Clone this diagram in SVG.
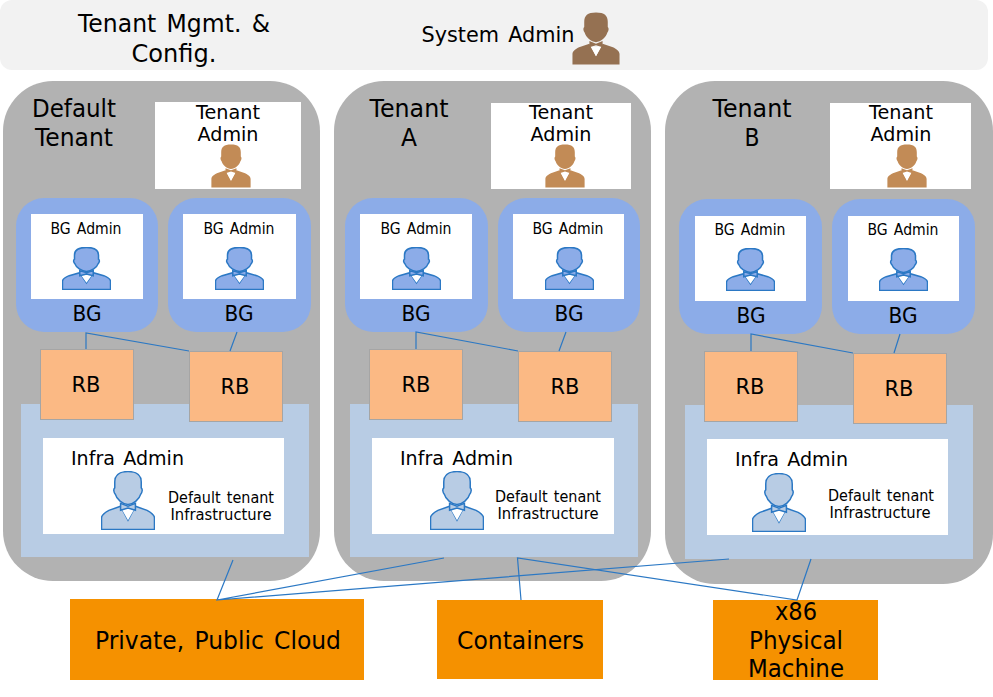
<svg xmlns="http://www.w3.org/2000/svg" width="993" height="697" viewBox="0 0 993 697">
<style>
text{font-family:"DejaVu Sans","Liberation Sans",sans-serif;fill:#000;text-anchor:middle;word-spacing:.12em}
.tenant{fill:#b2b2b2}
.bg{fill:#8cace8}
.box{fill:#fff}
.rb{fill:#fbb984;stroke:#a5a5a5;stroke-width:1}
.infra{fill:#b8cce4}
.res{fill:#f59100}
.conn{fill:none;stroke:#2b78c4;stroke-width:1.2}
.sys{fill:#957152;stroke:#957152;stroke-width:0}
.ta{fill:#c28b56;stroke:#c28b56;stroke-width:0}
.pb{fill:#8cace8;stroke:#2b78c4;stroke-width:1.5}
.pi{fill:#b8cce4;stroke:#2b78c4;stroke-width:1.5}
.s25{font-size:24px}.s22{font-size:22px}.s20{font-size:20px}.s15{font-size:15px}.s19{font-size:19px}.s21{font-size:21px}
</style>
<defs>
<symbol id="person" viewBox="-1 -1 102 102" preserveAspectRatio="none">
<path vector-effect="non-scaling-stroke" d="M50 0C68 0 75 6 75 18L75 28C78 30 77 36 74 39C72 47 60 57 50 57C40 57 28 47 26 39C23 36 22 30 25 28L25 18C25 6 32 0 50 0Z"/>
<path vector-effect="non-scaling-stroke" d="M0 100L0 80C0 74 8 70 14 67L36 60L50 84L64 60L86 67C92 70 100 74 100 80L100 100Z"/>
<path d="M37 63L50 67L63 63L50 84Z" fill="#fff" stroke="none"/>
<path vector-effect="non-scaling-stroke" d="M36 55L50 60L64 55L64 67L50 63L36 67Z"/>
</symbol>
</defs>

<g id="mgmt-band">
<rect x="0" y="0" width="988" height="70" rx="12" fill="#f2f2f2"/>
<text class="s25" x="174" y="32" textLength="192" lengthAdjust="spacingAndGlyphs">Tenant Mgmt. &amp;</text>
<text class="s25" x="174" y="62" textLength="85" lengthAdjust="spacingAndGlyphs">Config.</text>
<text class="s22" x="498" y="42" textLength="153" lengthAdjust="spacingAndGlyphs">System Admin</text>
<use href="#person" class="sys" x="572" y="12" width="48" height="53"/>
</g>

<g id="tenant-default">
<rect class="tenant" x="3" y="81" width="317" height="500" rx="50"/>
<text class="s25" x="74" y="117" textLength="84" lengthAdjust="spacingAndGlyphs">Default</text>
<text class="s25" x="74" y="146" textLength="78" lengthAdjust="spacingAndGlyphs">Tenant</text>
</g>
<g id="tenant-a">
<rect class="tenant" x="334" y="81" width="317" height="500" rx="50"/>
<text class="s25" x="409" y="117" textLength="79" lengthAdjust="spacingAndGlyphs">Tenant</text>
<text class="s25" x="409" y="146" textLength="16" lengthAdjust="spacingAndGlyphs">A</text>
</g>
<g id="tenant-b">
<rect class="tenant" x="665" y="81" width="328" height="503" rx="50"/>
<text class="s25" x="752" y="117" textLength="79" lengthAdjust="spacingAndGlyphs">Tenant</text>
<text class="s25" x="752" y="146" textLength="15" lengthAdjust="spacingAndGlyphs">B</text>
</g>

<g id="tenant-admin-default">
<rect class="box" x="155" y="102" width="146" height="87"/>
<text class="s20" x="228" y="119" textLength="64" lengthAdjust="spacingAndGlyphs">Tenant</text>
<text class="s20" x="228" y="141" textLength="61" lengthAdjust="spacingAndGlyphs">Admin</text>
<use href="#person" class="ta" x="211" y="144" width="40" height="44"/>
</g>
<g id="tenant-admin-a">
<rect class="box" x="491" y="103" width="140" height="86"/>
<text class="s20" x="561" y="119" textLength="64" lengthAdjust="spacingAndGlyphs">Tenant</text>
<text class="s20" x="561" y="141" textLength="61" lengthAdjust="spacingAndGlyphs">Admin</text>
<use href="#person" class="ta" x="545" y="144" width="40" height="44"/>
</g>
<g id="tenant-admin-b">
<rect class="box" x="830" y="103" width="141" height="86"/>
<text class="s20" x="901" y="119" textLength="64" lengthAdjust="spacingAndGlyphs">Tenant</text>
<text class="s20" x="901" y="141" textLength="61" lengthAdjust="spacingAndGlyphs">Admin</text>
<use href="#person" class="ta" x="887" y="144" width="40" height="44"/>
</g>

<g id="bg-default-1">
<rect class="bg" x="16" y="198" width="142" height="134" rx="28"/>
<rect class="box" x="31" y="214" width="112" height="85"/>
<text class="s15" x="86" y="234" textLength="71" lengthAdjust="spacingAndGlyphs">BG Admin</text>
<use href="#person" class="pb" x="62" y="247" width="49" height="43"/>
<text class="s21" x="87" y="321" textLength="29" lengthAdjust="spacingAndGlyphs">BG</text>
</g>
<g id="bg-default-2">
<rect class="bg" x="168" y="198" width="143" height="134" rx="28"/>
<rect class="box" x="183" y="214" width="113" height="85"/>
<text class="s15" x="239" y="234" textLength="71" lengthAdjust="spacingAndGlyphs">BG Admin</text>
<use href="#person" class="pb" x="215" y="247" width="49" height="43"/>
<text class="s21" x="239" y="321" textLength="29" lengthAdjust="spacingAndGlyphs">BG</text>
</g>
<g id="bg-a-1">
<rect class="bg" x="345" y="198" width="143" height="134" rx="28"/>
<rect class="box" x="360" y="214" width="112" height="85"/>
<text class="s15" x="416" y="234" textLength="71" lengthAdjust="spacingAndGlyphs">BG Admin</text>
<use href="#person" class="pb" x="392" y="247" width="49" height="43"/>
<text class="s21" x="416" y="321" textLength="29" lengthAdjust="spacingAndGlyphs">BG</text>
</g>
<g id="bg-a-2">
<rect class="bg" x="498" y="198" width="142" height="134" rx="28"/>
<rect class="box" x="513" y="214" width="111" height="85"/>
<text class="s15" x="568" y="234" textLength="71" lengthAdjust="spacingAndGlyphs">BG Admin</text>
<use href="#person" class="pb" x="545" y="247" width="49" height="43"/>
<text class="s21" x="569" y="321" textLength="29" lengthAdjust="spacingAndGlyphs">BG</text>
</g>
<g id="bg-b-1">
<rect class="bg" x="679" y="199" width="143" height="135" rx="28"/>
<rect class="box" x="695" y="216" width="111" height="85"/>
<text class="s15" x="750" y="235" textLength="71" lengthAdjust="spacingAndGlyphs">BG Admin</text>
<use href="#person" class="pb" x="726" y="248" width="49" height="43"/>
<text class="s21" x="751" y="323" textLength="29" lengthAdjust="spacingAndGlyphs">BG</text>
</g>
<g id="bg-b-2">
<rect class="bg" x="832" y="199" width="143" height="135" rx="28"/>
<rect class="box" x="848" y="216" width="111" height="85"/>
<text class="s15" x="903" y="235" textLength="71" lengthAdjust="spacingAndGlyphs">BG Admin</text>
<use href="#person" class="pb" x="879" y="248" width="49" height="43"/>
<text class="s21" x="903" y="323" textLength="29" lengthAdjust="spacingAndGlyphs">BG</text>
</g>

<g id="infra-default">
<rect class="infra" x="21" y="404" width="288" height="153"/>
<rect class="box" x="43" y="438" width="241" height="96"/>
<text class="s19" x="127.500" y="465" textLength="113" lengthAdjust="spacingAndGlyphs">Infra Admin</text>
<use href="#person" class="pi" x="101" y="471" width="54" height="59"/>
<text class="s15" x="221" y="503" textLength="106" lengthAdjust="spacingAndGlyphs">Default tenant</text>
<text class="s15" x="221" y="520" textLength="101" lengthAdjust="spacingAndGlyphs">Infrastructure</text>
</g>
<g id="infra-a">
<rect class="infra" x="350" y="404" width="288" height="153"/>
<rect class="box" x="372" y="438" width="242" height="96"/>
<text class="s19" x="456.500" y="465" textLength="113" lengthAdjust="spacingAndGlyphs">Infra Admin</text>
<use href="#person" class="pi" x="430" y="471" width="54" height="59"/>
<text class="s15" x="548" y="502" textLength="106" lengthAdjust="spacingAndGlyphs">Default tenant</text>
<text class="s15" x="548" y="519" textLength="101" lengthAdjust="spacingAndGlyphs">Infrastructure</text>
</g>
<g id="infra-b">
<rect class="infra" x="685" y="405" width="288" height="154"/>
<rect class="box" x="707" y="439" width="241" height="96"/>
<text class="s19" x="791.500" y="466" textLength="113" lengthAdjust="spacingAndGlyphs">Infra Admin</text>
<use href="#person" class="pi" x="752" y="473" width="54" height="59"/>
<text class="s15" x="881" y="501" textLength="106" lengthAdjust="spacingAndGlyphs">Default tenant</text>
<text class="s15" x="880" y="518" textLength="101" lengthAdjust="spacingAndGlyphs">Infrastructure</text>
</g>

<g id="rb-default-1"><rect class="rb" x="40.500" y="349.500" width="93" height="70"/><text class="s21" x="86" y="392" textLength="29" lengthAdjust="spacingAndGlyphs">RB</text></g>
<g id="rb-default-2"><rect class="rb" x="189.500" y="351.500" width="93" height="70"/><text class="s21" x="235" y="394" textLength="29" lengthAdjust="spacingAndGlyphs">RB</text></g>
<g id="rb-a-1"><rect class="rb" x="369.500" y="349.500" width="93" height="70"/><text class="s21" x="416" y="392" textLength="29" lengthAdjust="spacingAndGlyphs">RB</text></g>
<g id="rb-a-2"><rect class="rb" x="518.500" y="351.500" width="93" height="70"/><text class="s21" x="565" y="394" textLength="29" lengthAdjust="spacingAndGlyphs">RB</text></g>
<g id="rb-b-1"><rect class="rb" x="704.500" y="351.500" width="93" height="70"/><text class="s21" x="750" y="394" textLength="29" lengthAdjust="spacingAndGlyphs">RB</text></g>
<g id="rb-b-2"><rect class="rb" x="853.500" y="353.500" width="93" height="70"/><text class="s21" x="899" y="396" textLength="29" lengthAdjust="spacingAndGlyphs">RB</text></g>

<g id="res-cloud"><rect class="res" x="70" y="599" width="294" height="81"/><text class="s25" x="218" y="649" textLength="246" lengthAdjust="spacingAndGlyphs">Private, Public Cloud</text></g>
<g id="res-containers"><rect class="res" x="437" y="600" width="166" height="79"/><text class="s25" x="520.500" y="649" textLength="127" lengthAdjust="spacingAndGlyphs">Containers</text></g>
<g id="res-x86"><rect class="res" x="713" y="600" width="165" height="80"/>
<text class="s25" x="796" y="620" textLength="42" lengthAdjust="spacingAndGlyphs">x86</text>
<text class="s25" x="796" y="649" textLength="94" lengthAdjust="spacingAndGlyphs">Physical</text>
<text class="s25" x="796" y="677" textLength="96" lengthAdjust="spacingAndGlyphs">Machine</text></g>

<g id="connectors" class="conn">
<path d="M86 349V333L189 351M237 332L230 351"/>
<path d="M416 349V332L518 351M566 332L559 351"/>
<path d="M751 351V334L853 353M900 334L894 353"/>
<path d="M233 560L217 600L444 558M217 600L729 559"/>
<path d="M521 600L517.500 558L797 600L811 559"/>
</g>
</svg>
